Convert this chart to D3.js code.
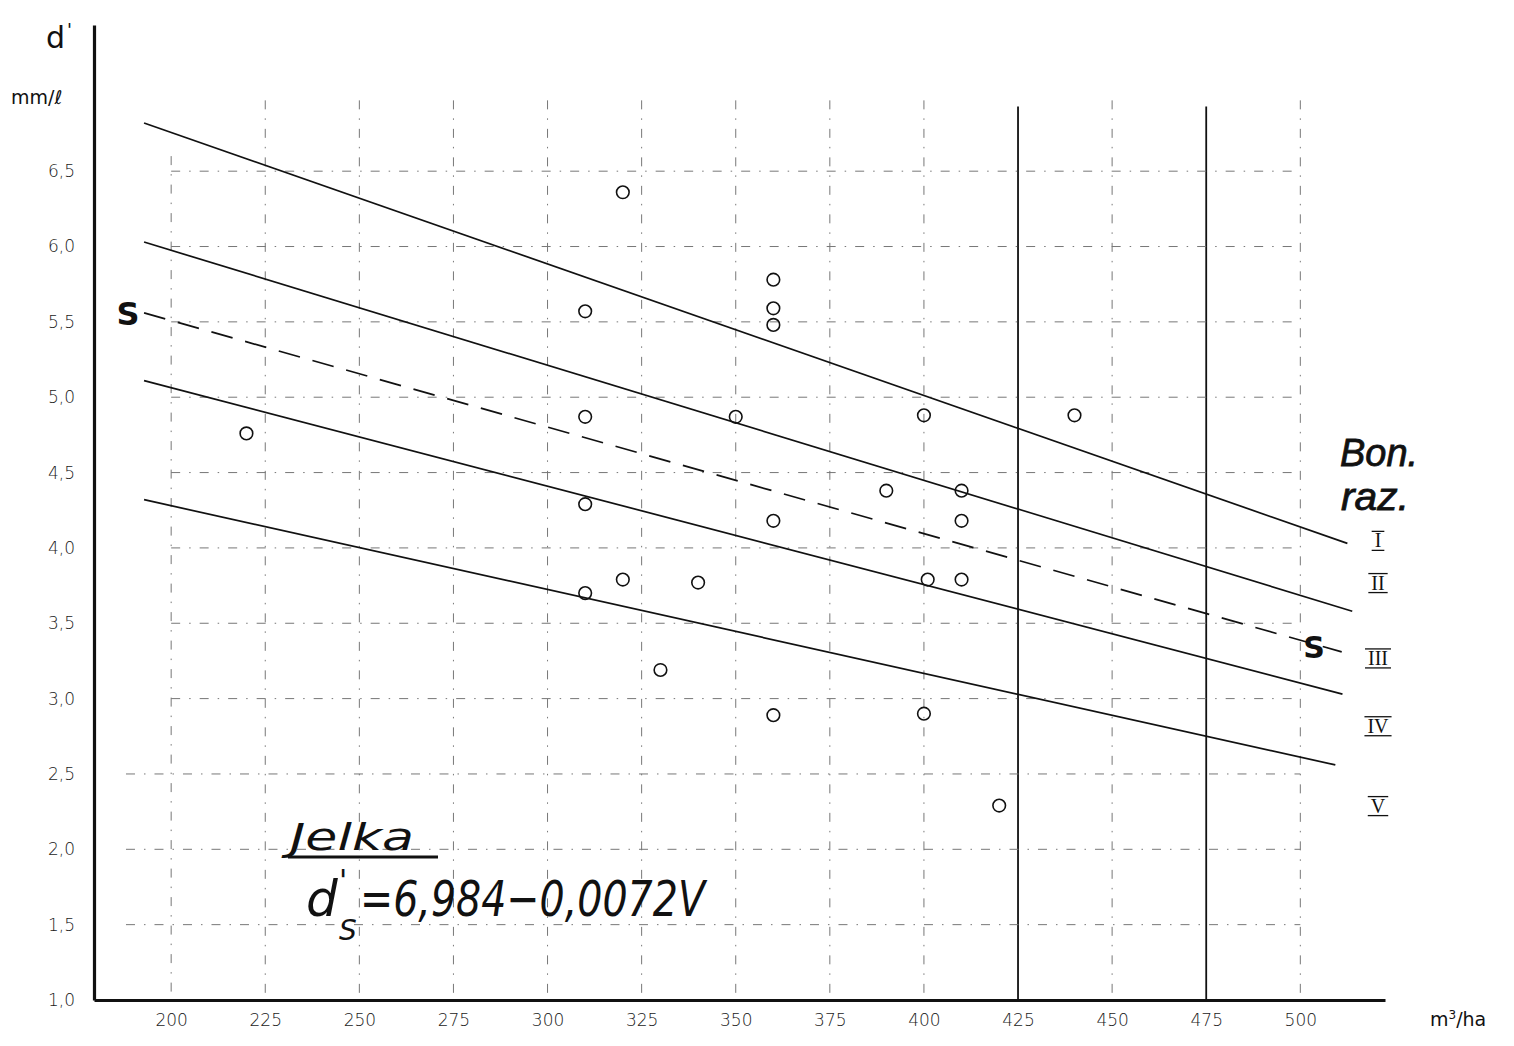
<!DOCTYPE html>
<html><head><meta charset="utf-8">
<script src="https://cdn.jsdelivr.net/npm/d3@7"></script>
<style>
html,body{margin:0;padding:0;background:#fff;}
svg{display:block;}
</style>
</head><body>
<svg id="chart" width="1514" height="1046"></svg>
<script>
// ---- data ----
const xDomain = [179.5, 522.5];
const yDomain = [1.0, 7.47];
const xTicks = [200,225,250,275,300,325,350,375,400,425,450,475,500];
const xTickLabels = ["200","225","250","275","300","325","350","375","400","425","450","475","500"];
const yTicks = [1.0,1.5,2.0,2.5,3.0,3.5,4.0,4.5,5.0,5.5,6.0,6.5];
const yTickLabels = ["1,0","1,5","2,0","2,5","3,0","3,5","4,0","4,5","5,0","5,5","6,0","6,5"];
const solidGridV = [425, 475];

// class lines (Bon. raz.)  start/end volume V and d'
const lineNames  = ["I","II","S","III","IV"];
const lineStartV = [192.8, 192.8, 192.8, 192.8, 192.8];
const lineStartD = [6.82, 6.03, 5.56, 5.11, 4.32];
const lineEndV   = [512.5, 513.8, 511.0, 511.2, 509.3];
const lineEndD   = [4.03, 3.58, 3.31, 3.03, 2.56];

// observations
const pointV = [220,320,310,310,310,310,320,330,340,350,360,360,360,360,360,390,400,401,400,410,410,410,420,440];
const pointD = [4.76,6.36,5.57,4.87,4.29,3.70,3.79,3.19,3.77,4.87,5.78,5.59,5.48,4.18,2.89,4.38,4.88,3.79,2.90,4.38,4.18,3.79,2.29,4.88];

// bonitet labels (at right) with the d' level they sit at
const bonLabels = ["I","II","III","IV","V"];
const bonLabelD = [4.05, 3.77, 3.27, 2.82, 2.29];

// ---- drawing ----
const svg = d3.select("#chart");
const x = d3.scaleLinear().domain(xDomain).range([94, 1385]);
const y = d3.scaleLinear().domain(yDomain).range([1000, 25]);
const ink = "#111";
const gridInk = "#777";
const gridDash = "9,9,1.5,9";

// grid
const grid = svg.append("g");
const gridTop = 6.97;
xTicks.forEach(v => {
  const solid = solidGridV.includes(v);
  grid.append("line")
    .attr("x1", x(v)).attr("x2", x(v))
    .attr("y1", y(solid ? 6.93 : (v === 200 ? 6.6 : gridTop))).attr("y2", y(1.0))
    .attr("stroke", solid ? ink : gridInk)
    .attr("stroke-width", solid ? 1.8 : 1)
    .attr("stroke-dasharray", solid ? null : gridDash);
});
yTicks.filter(t => t > 1.0).forEach(t => {
  grid.append("line")
    .attr("x1", x(t <= 2.5 ? 188 : 200)).attr("x2", x(500))
    .attr("y1", y(t)).attr("y2", y(t))
    .attr("stroke", gridInk).attr("stroke-width", 1)
    .attr("stroke-dasharray", gridDash);
});

// axes
const fontTick = "'DejaVu Sans', 'Liberation Sans', sans-serif";
const xAxis = svg.append("g").attr("transform", `translate(0,${y(1.0)})`)
  .call(d3.axisBottom(x).tickValues(xTicks).tickFormat((d,i)=>xTickLabels[i]).tickSize(0).tickPadding(14));
const yAxis = svg.append("g").attr("transform", `translate(${x(xDomain[0])},0)`)
  .call(d3.axisLeft(y).tickValues(yTicks).tickFormat((d,i)=>yTickLabels[i]).tickSize(0).tickPadding(19));
[xAxis, yAxis].forEach(a => {
  a.select(".domain").attr("stroke", ink).attr("stroke-width", 3.2);
  a.selectAll("text").attr("font-family", fontTick).attr("font-size", 17)
    .attr("font-weight", 300).attr("fill", "#1a1a1a");
});

// regression / class lines
lineNames.forEach((n, i) => {
  svg.append("line")
    .attr("x1", x(lineStartV[i])).attr("y1", y(lineStartD[i]))
    .attr("x2", x(lineEndV[i])).attr("y2", y(lineEndD[i]))
    .attr("stroke", ink).attr("stroke-width", 1.7)
    .attr("stroke-dasharray", n === "S" ? "22,13" : null);
});

// points
svg.append("g").selectAll("circle").data(pointV).join("circle")
  .attr("cx", (d,i) => x(d)).attr("cy", (d,i) => y(pointD[i]))
  .attr("r", 6.3).attr("fill", "none").attr("stroke", ink).attr("stroke-width", 1.6);

// S labels
const sFont = "'DejaVu Sans', sans-serif";
svg.append("text").attr("x", 128).attr("y", y(lineStartD[2]) + 12)
  .attr("text-anchor", "middle").attr("font-family", sFont).attr("font-weight", "bold")
  .attr("font-size", 32).attr("fill", ink).text("S");
svg.append("text").attr("x", 1314).attr("y", y(3.35) + 12)
  .attr("text-anchor", "middle").attr("font-family", sFont).attr("font-weight", "bold")
  .attr("font-size", 30).attr("fill", ink).text("S");

// axis titles
svg.append("text").attr("x", 46).attr("y", 48).attr("font-family", sFont)
  .attr("font-size", 30).attr("fill", ink).text("d");
svg.append("text").attr("x", 67).attr("y", 36).attr("font-family", sFont)
  .attr("font-size", 18).attr("fill", ink).text("'");
svg.append("text").attr("x", 11).attr("y", 104).attr("font-family", sFont)
  .attr("font-size", 19).attr("fill", ink).text("mm/ℓ");
svg.append("text").attr("x", 1430).attr("y", 1026).attr("font-family", sFont)
  .attr("font-size", 19).attr("fill", ink)
  .html("m<tspan dy='-7' font-size='12'>3</tspan><tspan dy='7'>/ha</tspan>");

// Bon. raz.
const itFont = "'DejaVu Sans', sans-serif";
const libIt = "'Liberation Sans', 'DejaVu Sans', sans-serif";
svg.append("text").attr("x", 1340).attr("y", 466).attr("font-family", libIt)
  .attr("font-style", "italic").attr("font-size", 38).attr("fill", ink)
  .attr("stroke", ink).attr("stroke-width", 0.8)
  .attr("textLength", 78).attr("lengthAdjust", "spacingAndGlyphs").text("Bon.");
svg.append("text").attr("x", 1341).attr("y", 510).attr("font-family", libIt)
  .attr("font-style", "italic").attr("font-size", 38).attr("fill", ink)
  .attr("stroke", ink).attr("stroke-width", 0.8)
  .attr("textLength", 68).attr("lengthAdjust", "spacingAndGlyphs").text("raz.");

// roman numerals with over/under bars
const serif = "'Liberation Serif', 'DejaVu Serif', serif";
bonLabels.forEach((t, i) => {
  const cy = y(bonLabelD[i]);
  const g = svg.append("g");
  const txt = g.append("text").attr("x", 1378).attr("y", cy + 7)
    .attr("text-anchor", "middle").attr("font-family", serif)
    .attr("font-size", 20).attr("fill", ink).text(t);
  const w = txt.node().getComputedTextLength();
  [cy - 9, cy + 10].forEach(yy => g.append("line")
    .attr("x1", 1378 - w/2 - 3).attr("x2", 1378 + w/2 + 3)
    .attr("y1", yy).attr("y2", yy).attr("stroke", ink).attr("stroke-width", 1.3));
});

// title Jelka
svg.append("text").attr("x", 290).attr("y", 850).attr("font-family", itFont)
  .attr("font-style", "italic").attr("font-size", 38).attr("fill", ink)
  .attr("textLength", 124).attr("lengthAdjust", "spacingAndGlyphs").text("Jelka");
svg.append("line").attr("x1", 288).attr("x2", 438).attr("y1", 857).attr("y2", 857)
  .attr("stroke", ink).attr("stroke-width", 3);

// formula: d, prime, subscript S, rest
const fAttr = s => s.attr("font-family", itFont).attr("font-style", "italic").attr("fill", ink);
fAttr(svg.append("text")).attr("x", 306).attr("y", 916).attr("font-size", 50).text("d");
fAttr(svg.append("text")).attr("x", 339).attr("y", 891).attr("font-size", 30).text("'");
fAttr(svg.append("text")).attr("x", 339).attr("y", 940).attr("font-size", 28).text("S");
fAttr(svg.append("text")).attr("x", 360).attr("y", 916).attr("font-size", 50)
  .attr("textLength", 345).attr("lengthAdjust", "spacingAndGlyphs").text("=6,984−0,0072V");
</script>
</body></html>
